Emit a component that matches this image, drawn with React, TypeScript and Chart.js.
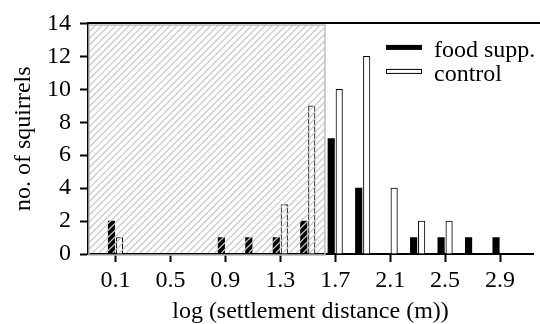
import React, { useEffect, useRef } from "react";
import { Chart, registerables } from "chart.js";

Chart.register(...registerables);

// ---- data ----
const positions = [0.1, 0.9, 1.1, 1.3, 1.5, 1.7, 1.9, 2.1, 2.3, 2.5, 2.7, 2.9];
const foodSupp = [2, 1, 1, 1, 2, 7, 4, 0, 1, 1, 1, 1];
const control = [1, 0, 0, 3, 9, 10, 12, 4, 2, 2, 0, 0];
const xTicks = [0.1, 0.5, 0.9, 1.3, 1.7, 2.1, 2.5, 2.9];
const yTicks = [0, 2, 4, 6, 8, 10, 12, 14];
const seriesLabels = ["food supp.", "control"];
const hatchedRange = [-0.1, 1.625];
const hatchedTop = 13.9;
const xTitle = "log (settlement distance (m))";
const yTitle = "no. of squirrels";

const FONT = "'Liberation Serif', 'Times New Roman', serif";
const FS = 24;

const toPoints = (vals: number[]) =>
  positions.map((x, i) => ({ x, y: vals[i] === 0 ? null : vals[i] }));

const overlayPlugin = {
  id: "overlay",
  afterDatasetsDraw(chart: any) {
    const { ctx, chartArea, scales } = chart;
    const xs = scales.x;
    const ys = scales.y;
    const x0 = chartArea.left + 1;
    const x1 = xs.getPixelForValue(hatchedRange[1]);
    const yTop = ys.getPixelForValue(hatchedTop);
    const yBot = ys.getPixelForValue(0) - 1;
    const w = x1 - x0;
    const h = yBot - yTop;
    ctx.save();
    ctx.beginPath();
    ctx.rect(x0, yTop, w, h);
    ctx.clip();
    ctx.strokeStyle = "#c8c8c8";
    ctx.lineWidth = 1.2;
    ctx.beginPath();
    for (let k = -h; k < w + h; k += 6.8) {
      ctx.moveTo(x0 + k, yBot);
      ctx.lineTo(x0 + k + h, yTop);
    }
    ctx.stroke();
    ctx.restore();
    ctx.save();
    ctx.strokeStyle = "#bdbdbd";
    ctx.lineWidth = 1.5;
    ctx.strokeRect(x0, yTop, w, h + 2);
    ctx.restore();
  },
  afterDraw(chart: any) {
    const { ctx, chartArea } = chart;
    ctx.save();
    // top frame line
    ctx.strokeStyle = "#000";
    ctx.lineWidth = 2;
    ctx.beginPath();
    ctx.moveTo(chartArea.left - 1, chartArea.top - 0.5);
    ctx.lineTo(chart.width, chartArea.top - 0.5);
    ctx.stroke();
    // legend
    const lx = chartArea.right - 147;
    const ly = chartArea.top + 24;
    ctx.font = `${FS}px ${FONT}`;
    ctx.textBaseline = "alphabetic";
    ctx.textAlign = "left";
    chart.data.datasets.forEach((ds: any, i: number) => {
      const cy = ly + i * 24;
      if (i === 0) {
        ctx.fillStyle = ds.backgroundColor;
        ctx.fillRect(lx, cy - 2.5, 36, 5);
      } else {
        ctx.fillStyle = ds.backgroundColor;
        ctx.fillRect(lx, cy - 2.5, 36, 5);
        ctx.strokeStyle = ds.borderColor;
        ctx.lineWidth = 1;
        ctx.strokeRect(lx + 0.5, cy - 2, 35, 4);
      }
      ctx.fillStyle = "#000";
      ctx.fillText(ds.label, lx + 48, cy + 9.5);
    });
    ctx.restore();
  },
};

export default function App() {
  const ref = useRef<HTMLCanvasElement | null>(null);
  useEffect(() => {
    if (!ref.current) return;
    const chart = new Chart(ref.current, {
      type: "bar",
      data: {
        datasets: [
          {
            label: seriesLabels[0],
            data: toPoints(foodSupp) as any,
            backgroundColor: "#000",
            borderColor: "#000",
            borderWidth: 0,
          },
          {
            label: seriesLabels[1],
            data: toPoints(control) as any,
            backgroundColor: "#fff",
            borderColor: "#000",
            borderWidth: 1,
          },
        ],
      },
      plugins: [overlayPlugin],
      options: {
        responsive: false,
        animation: false,
        devicePixelRatio: 1,
        datasets: { bar: { barThickness: 8, maxBarThickness: 6.5 } } as any,
        layout: { padding: { top: 18, right: 7, left: 0, bottom: 0 } },
        plugins: { legend: { display: false }, tooltip: { enabled: false } },
        scales: {
          x: {
            type: "linear",
            min: -0.1,
            max: 3.14,
            offset: false,
            afterBuildTicks: (s: any) => {
              s.ticks = xTicks.map((v) => ({ value: v }));
            },
            afterFit: (s: any) => {
              s.height = 70;
            },
            ticks: {
              color: "#000",
              font: { family: FONT, size: FS },
              padding: 4,
              maxRotation: 0,
              autoSkip: false,
              callback: (v: any) => Number(v).toFixed(1),
            },
            grid: {
              display: true,
              offset: false,
              drawOnChartArea: false,
              drawTicks: true,
              tickLength: 8,
              tickWidth: 2,
              tickColor: "#000",
            },
            border: { display: true, color: "#000", width: 2 },
            title: {
              display: true,
              text: xTitle,
              color: "#000",
              font: { family: FONT, size: FS, lineHeight: 1 },
              padding: { top: 0, bottom: 0 },
            },
          } as any,
          y: {
            type: "linear",
            min: 0,
            max: 14,
            afterBuildTicks: (s: any) => {
              s.ticks = yTicks.map((v) => ({ value: v }));
            },
            afterFit: (s: any) => {
              s.width = 88;
            },
            ticks: {
              color: "#000",
              font: { family: FONT, size: FS },
              padding: 9,
            },
            grid: {
              display: true,
              drawOnChartArea: false,
              drawTicks: true,
              tickLength: 8,
              tickWidth: 2,
              tickColor: "#000",
            },
            border: { display: true, color: "#000", width: 2 },
            title: {
              display: true,
              text: yTitle,
              color: "#000",
              font: { family: FONT, size: FS, lineHeight: 1 },
              padding: { top: 12, bottom: 0 },
            },
          } as any,
        },
      },
    });
    return () => chart.destroy();
  }, []);
  return (
    <div style={{ position: "fixed", left: 0, top: 0, width: 540, height: 324, background: "#fff" }}>
      <canvas ref={ref} width={540} height={324} style={{ width: 540, height: 324 }} />
    </div>
  );
}
